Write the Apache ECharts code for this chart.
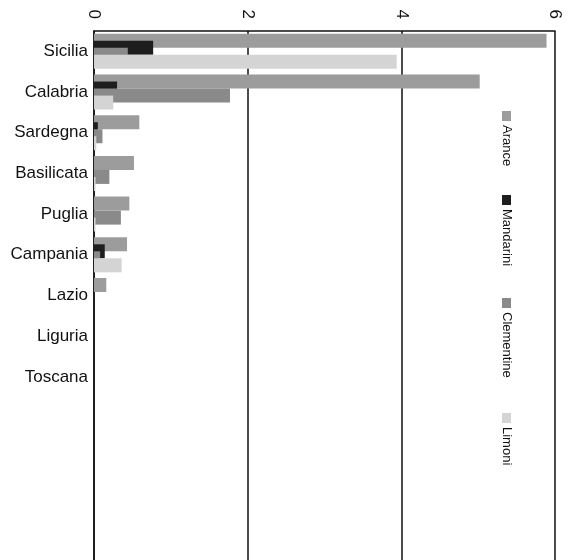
<!DOCTYPE html>
<html><head><meta charset="utf-8">
<script src="https://cdn.jsdelivr.net/npm/echarts@6/dist/echarts.min.js"></script>
<style>html,body{margin:0;padding:0;background:#fff}#c{width:570px;height:560px}</style>
</head><body><div id="c"></div>
<script>
const regions = ['Sicilia','Calabria','Sardegna','Basilicata','Puglia','Campania','Lazio','Liguria','Toscana'];
const seriesNames = ['Arance','Mandarini','Clementine','Limoni'];
const arance     = [5.89, 5.02, 0.59, 0.52, 0.46, 0.43, 0.16, 0, 0];
const mandarini  = [0.77, 0.30, 0.05, 0.00, 0.00, 0.14, 0, 0, 0];
const clementine = [0.44, 1.77, 0.11, 0.20, 0.35, 0.08, 0, 0, 0];
const limoni     = [3.94, 0.25, 0.03, 0.02, 0.02, 0.36, 0, 0, 0];
const xTicks = [0, 2, 4, 6];
const colors = ['#9c9c9c', '#1e1e1e', '#8a8a8a', '#d4d4d4'];
const values = [arance, mandarini, clementine, limoni];

const chart = echarts.init(document.getElementById('c'));
const legendGraphics = [];
const legendY = [111, 195, 298, 413];
seriesNames.forEach((n, i) => {
  legendGraphics.push({type:'rect', shape:{x:502, y:legendY[i], width:9, height:10}, style:{fill:colors[i]}});
  legendGraphics.push({type:'text', x:507, y:legendY[i]+14, rotation:-Math.PI/2,
    style:{text:n, fill:'#111', font:'13px "Liberation Sans", Arial, sans-serif', textAlign:'left', textVerticalAlign:'middle'}});
});
chart.setOption({
  animation:false,
  grid:{left:94, top:31, width:461, height:541, containLabel:false},
  xAxis:{type:'value', position:'top', min:xTicks[0], max:xTicks[xTicks.length-1], interval:2,
    axisLine:{show:true, lineStyle:{color:'#111', width:1.5}},
    axisTick:{show:false},
    axisLabel:{rotate:90, margin:12, color:'#111', fontSize:17, fontFamily:'"Liberation Sans", Arial, sans-serif'},
    splitLine:{show:true, lineStyle:{color:'#111', width:1.5}}},
  yAxis:{type:'category', inverse:true, data:regions, min:0, max:12,
    axisLine:{show:true, lineStyle:{color:'#111', width:1.5}},
    axisTick:{show:false},
    axisLabel:{color:'#111', fontSize:17, margin:6, fontFamily:'"Liberation Sans", Arial, sans-serif'}},
  series: seriesNames.map((n, i) => ({
    name:n, type:'bar', data:values[i], barWidth:14, barGap:'-50%',
    itemStyle:{color:colors[i]}
  })),
  graphic: legendGraphics
});
</script></body></html>
